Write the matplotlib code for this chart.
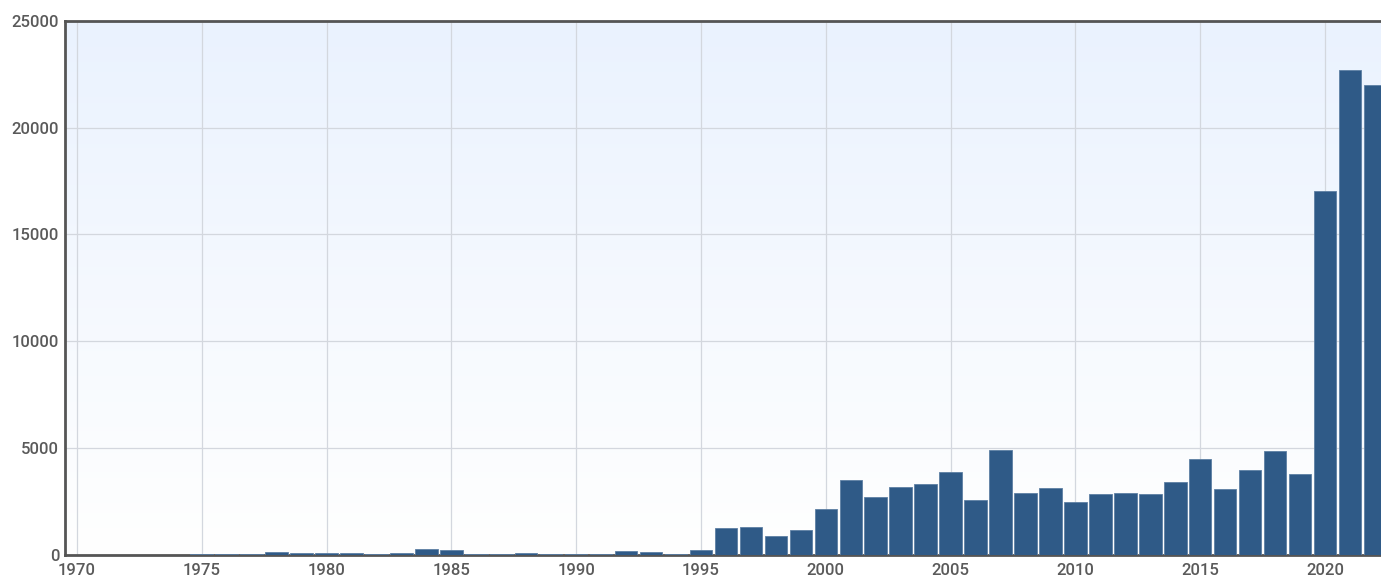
import numpy as np
import matplotlib
matplotlib.use("Agg")
import matplotlib.pyplot as plt
from matplotlib.colors import LinearSegmentedColormap

years = list(range(1970, 2023))
counts = [
    10, 20, 20, 20, 20, 30, 30, 50, 150, 100,      # 1970-1979
    80, 110, 60, 70, 270, 250, 60, 40, 70, 50,     # 1980-1989
    60, 40, 200, 150, 60, 230, 1280, 1330, 870, 1190,  # 1990-1999
    2140, 3530, 2710, 3180, 3310, 3900, 2590, 4900, 2920, 3140,  # 2000-2009
    2500, 2840, 2900, 2860, 3400, 4490, 3110, 3980, 4870, 3810,  # 2010-2019
    17050, 22690, 22000,                           # 2020-2022
]
xticks = list(range(1970, 2021, 5))
yticks = [0, 5000, 10000, 15000, 20000, 25000]

plt.rcParams['font.family'] = ['Roboto', 'DejaVu Sans']

fig = plt.figure(figsize=(13.81, 5.78), dpi=100)
ax = fig.add_axes([0.047, 0.0398, 0.953, 0.9242])

# light blue to white gradient behind the bars
grad = LinearSegmentedColormap.from_list("bg", ["#ffffff", "#eaf2fe"])
ax.imshow(np.linspace(0, 1, 256).reshape(-1, 1), cmap=grad, aspect="auto",
          origin="lower", extent=[0, 1, 0, 1], transform=ax.transAxes, zorder=0)

ax.bar(years, counts, width=0.9, color="#2f5a87", edgecolor="#5d7fa3",
       linewidth=0.6, zorder=3)

ax.set_xlim(1969.52, 2022.24)
ax.set_ylim(0, 25000)
ax.set_xticks(xticks)
ax.set_yticks(yticks)
ax.tick_params(length=0, labelsize=12, colors="#5a5a5a")
ax.tick_params(axis="y", pad=4)
ax.tick_params(axis="x", pad=6)
for lbl in ax.get_xticklabels() + ax.get_yticklabels():
    lbl.set_fontweight("medium")
ax.grid(True, color="#d3d7de", linewidth=0.9, zorder=1)
ax.set_axisbelow(True)

for side in ["left", "bottom", "top"]:
    ax.spines[side].set_color("#555555")
    ax.spines[side].set_linewidth(2)
ax.spines["right"].set_visible(False)

fig.savefig("out.png", dpi=100)
